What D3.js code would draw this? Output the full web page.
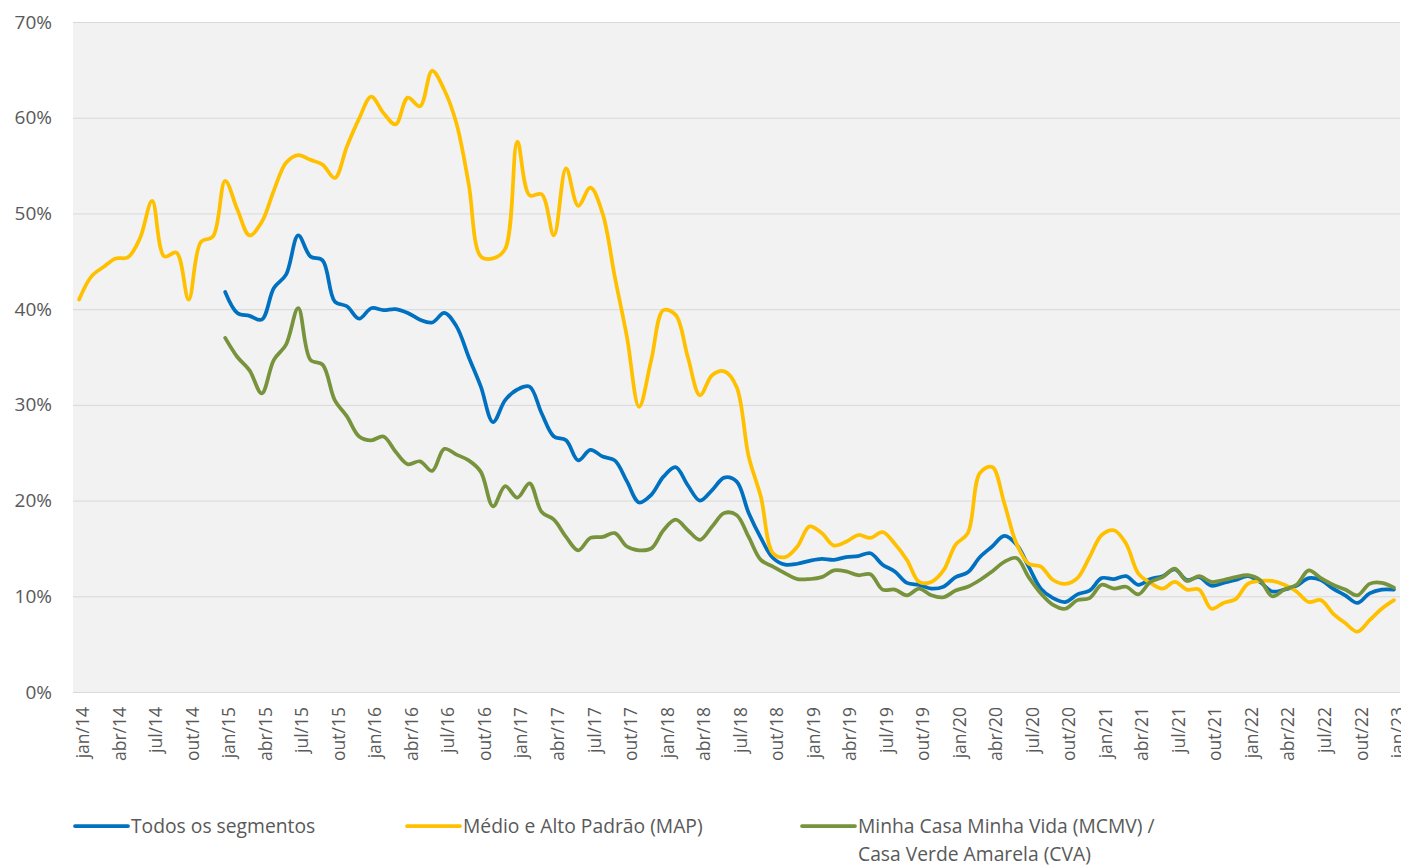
<!DOCTYPE html>
<html>
<head>
<meta charset="utf-8">
<script src="https://cdn.jsdelivr.net/npm/d3@7"></script>
<style>
  body { margin: 0; background: #ffffff; }
  text { font-family: "Open Sans", "Noto Sans", sans-serif; fill: #595959; }
</style>
</head>
<body>
<div class="data"></div>
<script>
// set the dimensions and margins of the graph
const width = 1401;
const height = 866;
const margin = {top: 22, right: 1, bottom: 174, left: 73};

// months and years used for the categories (jan/14 .. jan/23)
var meses = ["jan", "fev", "mar", "abr", "mai", "jun", "jul", "ago", "set", "out", "nov", "dez"];
var anos = ["14", "15", "16", "17", "18", "19", "20", "21", "22", "23"];

// y axis ticks
var yTicks = [0, 10, 20, 30, 40, 50, 60, 70];

// Médio e Alto Padrão (MAP), from jan/14
var map = [41.0, 43.4, 44.4, 45.3, 45.4, 47.4, 51.3, 45.5, 45.9, 41.0, 47.0, 47.6,
  53.4, 50.4, 47.7, 49.1, 52.4, 55.3, 56.1, 55.6, 55.1, 53.7, 57.0, 59.9,
  62.2, 60.5, 59.3, 62.1, 61.2, 64.9, 62.9, 59.4, 53.1, 45.5, 45.3, 46.3,
  57.5, 51.9, 52.0, 47.7, 54.7, 50.8, 52.7, 50.0, 43.4, 37.1, 29.8, 34.7,
  39.9, 39.4, 35.0, 31.0, 33.1, 33.5, 31.9, 24.6, 20.4, 14.5, 14.1, 15.2,
  17.3, 16.6, 15.3, 15.7, 16.4, 16.1, 16.7, 15.5, 13.8, 11.5, 11.5, 12.7,
  15.4, 16.6, 22.9, 23.5, 19.7, 15.5, 13.4, 13.1, 11.7, 11.3, 11.9, 14.1,
  16.4, 16.9, 15.5, 12.4, 11.4, 10.8, 11.5, 10.7, 10.7, 8.7, 9.3, 9.7,
  11.3, 11.6, 11.6, 11.2, 10.5, 9.4, 9.6, 8.2, 7.2, 6.3, 7.5, 8.7,
  9.6];

// Todos os segmentos, from jan/15
var todos = [41.8, 39.6, 39.3, 38.9, 42.2, 43.6, 47.7, 45.5, 45.1, 40.8, 40.3, 39.0,
  40.1, 39.9, 40.0, 39.6, 38.9, 38.6, 39.6, 38.2, 35.0, 31.9, 28.2, 30.5,
  31.6, 31.9, 29.1, 26.7, 26.3, 24.2, 25.3, 24.6, 24.2, 22.0, 19.8, 20.6,
  22.5, 23.5, 21.6, 20.0, 21.1, 22.4, 22.0, 18.7, 16.1, 14.0, 13.3, 13.4,
  13.7, 13.9, 13.8, 14.1, 14.2, 14.5, 13.3, 12.6, 11.4, 11.2, 10.8, 11.0,
  12.0, 12.5, 14.1, 15.2, 16.3, 15.4, 13.1, 10.8, 9.8, 9.4, 10.2, 10.6,
  11.9, 11.8, 12.1, 11.2, 11.8, 12.1, 12.8, 11.7, 12.0, 11.1, 11.4, 11.7,
  12.1, 11.5, 10.5, 10.7, 11.1, 11.9, 11.7, 10.8, 10.1, 9.3, 10.3, 10.7,
  10.7];

// Minha Casa Minha Vida (MCMV) / Casa Verde Amarela (CVA), from jan/15
var mcmv = [37.0, 35.0, 33.6, 31.2, 34.7, 36.3, 40.1, 34.7, 34.2, 30.5, 28.8, 26.7,
  26.3, 26.7, 25.1, 23.8, 24.1, 23.1, 25.4, 24.8, 24.2, 23.0, 19.4, 21.5,
  20.3, 21.8, 18.8, 18.0, 16.2, 14.8, 16.1, 16.2, 16.6, 15.2, 14.8, 15.0,
  16.9, 18.0, 16.9, 15.9, 17.3, 18.7, 18.5, 16.2, 13.8, 13.1, 12.4, 11.8,
  11.8, 12.0, 12.7, 12.6, 12.2, 12.3, 10.7, 10.7, 10.1, 10.8, 10.1, 9.9,
  10.6, 11.0, 11.7, 12.6, 13.6, 14.0, 12.0, 10.3, 9.1, 8.7, 9.6, 9.8,
  11.2, 10.8, 11.0, 10.2, 11.5, 12.0, 12.9, 11.6, 12.1, 11.5, 11.7, 12.0,
  12.2, 11.7, 10.0, 10.7, 11.2, 12.7, 11.9, 11.2, 10.7, 10.1, 11.3, 11.4,
  10.9];

// build the month categories
var categorias = [];
anos.forEach(function(a) {
  meses.forEach(function(m) {
    categorias.push(m + "/" + a);
  });
});
categorias = categorias.slice(0, map.length);

var series = [
  {nome: "Todos os segmentos", cor: "#0070C0", inicio: 12, valores: todos},
  {nome: "Médio e Alto Padrão (MAP)", cor: "#FFC000", inicio: 0, valores: map},
  {nome: "Minha Casa Minha Vida (MCMV) /", nome2: "Casa Verde Amarela (CVA)", cor: "#77933C", inicio: 12, valores: mcmv}
];

var svg = d3.select(".data")
  .append("svg")
    .attr("width", width)
    .attr("height", height);

var innerW = width - margin.left - margin.right;
var innerH = height - margin.top - margin.bottom;

var g = svg.append("g")
  .attr("transform", "translate(" + margin.left + "," + margin.top + ")");

// scales
var x = d3.scalePoint()
  .domain(categorias)
  .range([0, innerW])
  .padding(0.5);

var y = d3.scaleLinear()
  .domain([0, 70])
  .range([innerH, 0]);

// plot background
g.append("rect")
  .attr("width", innerW)
  .attr("height", innerH)
  .attr("fill", "#f2f2f2");

// gridlines
g.append("g")
  .call(d3.axisLeft(y).tickValues(yTicks).tickSize(-innerW).tickFormat(""))
  .call(function(s) { s.select(".domain").remove(); })
  .selectAll("line")
    .attr("stroke", "#d9d9d9")
    .attr("stroke-width", 1);

// y axis labels
g.append("g")
  .call(d3.axisLeft(y).tickValues(yTicks).tickSize(0).tickPadding(21).tickFormat(function(d) { return d + "%"; }))
  .call(function(s) { s.select(".domain").remove(); })
  .selectAll("text")
    .style("font-size", "19px")
    .attr("fill", "#595959");

// x axis labels, every 3 months
var xAxis = g.append("g")
  .attr("transform", "translate(0," + innerH + ")")
  .call(d3.axisBottom(x)
    .tickValues(categorias.filter(function(d, i) { return i % 3 === 0; }))
    .tickSize(0));
xAxis.select(".domain").remove();
xAxis.selectAll("text")
  .style("font-size", "17.5px")
  .attr("fill", "#595959")
  .attr("text-anchor", "end")
  .attr("transform", "rotate(-90)")
  .attr("x", -15)
  .attr("y", 0)
  .attr("dy", "0.55em");

// lines
var line = d3.line()
  .defined(function(d) { return d.v != null; })
  .x(function(d) { return x(d.c); })
  .y(function(d) { return y(d.v); })
  .curve(d3.curveCatmullRom.alpha(0.5));

series.forEach(function(s) {
  var pts = s.valores.map(function(v, i) { return {c: categorias[s.inicio + i], v: v}; });
  g.append("path")
    .datum(pts)
    .attr("fill", "none")
    .attr("stroke", s.cor)
    .attr("stroke-width", 3.75)
    .attr("stroke-linejoin", "round")
    .attr("stroke-linecap", "round")
    .attr("d", line);
});

// legend
var legendX = [73, 405, 800];
var legend = svg.append("g").attr("transform", "translate(0,826)");
series.forEach(function(s, i) {
  var lg = legend.append("g").attr("transform", "translate(" + legendX[i] + ",0)");
  lg.append("line")
    .attr("x1", 2).attr("x2", 55)
    .attr("stroke", s.cor)
    .attr("stroke-width", 3.75)
    .attr("stroke-linecap", "round");
  lg.append("text")
    .attr("x", 58)
    .attr("dy", "0.35em")
    .style("font-size", "19.3px")
    .text(s.nome);
  if (s.nome2) {
    lg.append("text")
      .attr("x", 58)
      .attr("y", 28)
      .attr("dy", "0.35em")
      .style("font-size", "19.3px")
      .text(s.nome2);
  }
});
</script>
</body>
</html>
